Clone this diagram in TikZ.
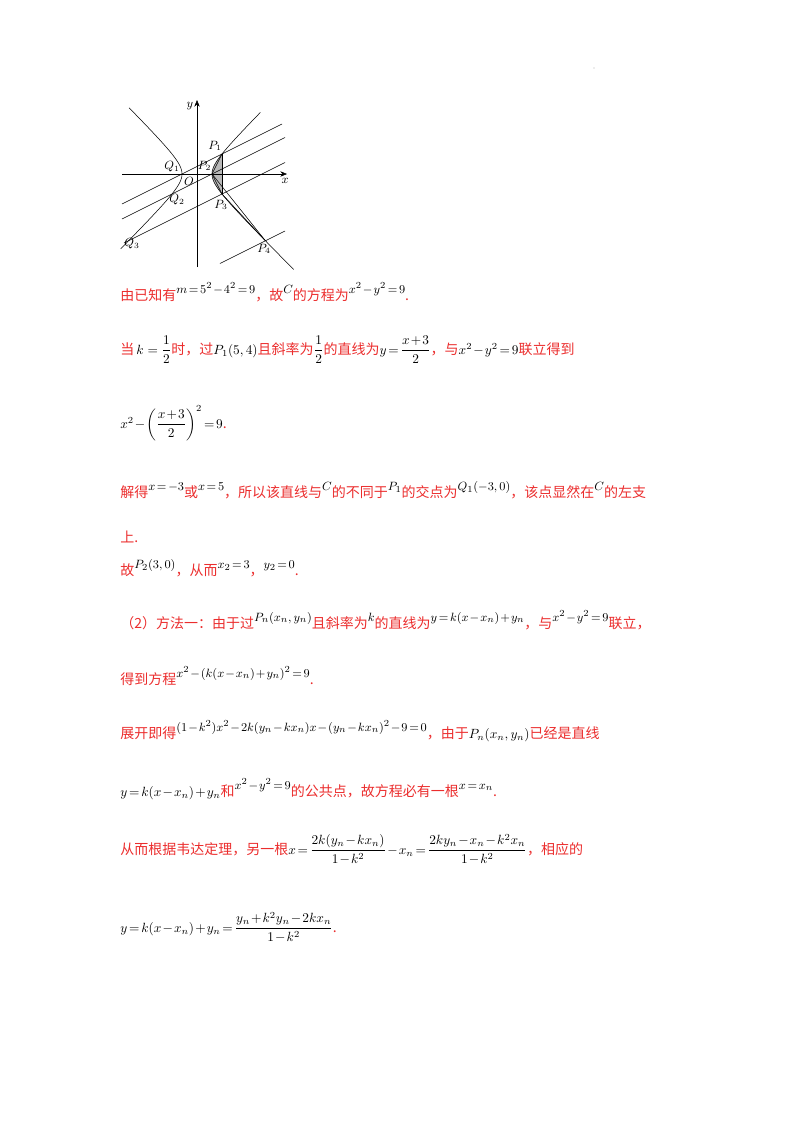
\documentclass[tikz,border=0pt]{standalone}
\usepackage{amsmath}
\usepackage{fontspec}
\setmainfont{Liberation Serif}
\newfontfamily\cjk{Noto Sans CJK SC}
\usetikzlibrary{arrows.meta}
\definecolor{txtred}{RGB}{235,45,45}
\newcommand{\R}[1]{{\cjk\color{txtred}#1}}
\newcommand{\U}[1]{\raisebox{5pt}{\fontsize{9.5}{12}\selectfont$#1$}}
\newcommand{\M}[1]{{\fontsize{10}{12}\selectfont$#1$}}
\thickmuskip=2.5mu plus 1mu
\medmuskip=1.5mu plus 1mu
\begin{document}
\begin{tikzpicture}[x=0.75pt,y=-0.75pt,
  line/.style={anchor=base west,inner sep=0pt,font=\fontsize{10.5}{13}\selectfont},
  lab/.style={inner sep=0pt,font=\fontsize{9}{10}\selectfont}]
\useasboundingbox (0,0) rectangle (800,1132);
\fill[gray!60] (594,68) circle (0.6);
\begin{scope}[shift={(197,174)},x=3.75pt,y=3.75pt,
  declare function={ch(\t)=(exp(\t)+exp(-\t))/2; sh(\t)=(exp(\t)-exp(-\t))/2;}]
  \fill[gray!55] plot[domain=-1.0986:1.0986,samples=30] ({3*ch(\x)},{3*sh(\x)}) -- cycle;
  \fill[gray!55] plot[domain=-2.2246:-1.0986,samples=30] ({3*ch(\x)},{3*sh(\x)}) -- cycle;
  \draw[thin,-{Stealth[length=5pt,width=4pt]}] (-15,0) -- (18,0);
  \draw[thin,-{Stealth[length=5pt,width=4pt]}] (0,-18.6) -- (0,14.8);
  \draw[thin] plot[domain=-2.55:2.12,samples=80] ({3*ch(\x)},{3*sh(\x)});
  \draw[thin] plot[domain=-2.31:2.19,samples=80] ({-3*ch(\x)},{3*sh(\x)});
  \coordinate (P1) at (5,4); \coordinate (P2) at (3,0); \coordinate (P3) at (5,-4);
  \coordinate (P4) at (13.67,-13.33);
  \draw[thin] (-15,-6) -- (17,10);
  \draw[thin] (-15,-9) -- (17.6,7.3);
  \draw[thin] (-14.6,-13.8) -- (17.6,2.3);
  \draw[thin] (4.6,-17.9) -- (17.6,-11.4);
  \draw[thin] (P1) -- (P3); \draw[thin] (P2) -- (P1); \draw[thin] (P2) -- (P3);
  \draw[thin] (P3) -- (P4); \draw[thin] (P2) -- (P4);
  \node[lab] at (-1.4,13.6) {$y$};
  \node[lab] at (17.6,-1.4) {$x$};
  \node[lab] at (-1.6,-1.4) {$O$};
  \node[lab] at (-5.0,1.4) {$Q_1$};
  \node[lab] at (1.5,1.6) {$P_2$};
  \node[lab] at (3.6,5.6) {$P_1$};
  \node[lab] at (-4.0,-5.2) {$Q_2$};
  \node[lab] at (4.8,-6.2) {$P_3$};
  \node[lab] at (-13.0,-14.0) {$Q_3$};
  \node[lab] at (13.4,-15.0) {$P_4$};
\end{scope}
\node[line] (l1) at (120,300) {\R{由已知有}\U{m=5^2-4^2=9}\R{，故}\U{C}\R{的方程为}\U{x^2-y^2=9}\R{.}};
\node[line] (l2) at (120,354) {\R{当}\M{\,k\;=\;\dfrac{1}{2}}\R{时，过}\M{P_1(5,4)}\R{且斜率为}\M{\dfrac12}\R{的直线为}\M{y=\dfrac{x+3}{2}}\R{，与}\M{x^2-y^2=9}\R{联立得到}};
\node[line] (l3) at (120,428) {\M{x^2-\left(\dfrac{x+3}{2}\right)^2=9}\R{.}};
\node[line] (l4) at (120,497) {\R{解得}\U{x=-3}\R{或}\U{x=5}\R{，所以该直线与}\U{C}\R{的不同于}\U{P_1}\R{的交点为}\U{Q_1(-3,0)}\R{，该点显然在}\U{C}\R{的左支}};
\node[line] (l5) at (120,542) {\R{上.}};
\node[line] (l6) at (120,575) {\R{故}\U{P_2(3,0)}\R{，从而}\U{x_2=3}\R{，}\U{y_2=0}\R{.}};
\node[line] (l7) at (120,628) {\R{（2）方法一：由于过}\U{P_n(x_n,y_n)}\R{且斜率为}\U{k}\R{的直线为}\U{y=k(x-x_n)+y_n}\R{，与}\U{x^2-y^2=9}\R{联立，}};
\node[line] (l8) at (120,684) {\R{得到方程}\U{x^2-(k(x-x_n)+y_n)^2=9}\R{.}};
\node[line] (l9) at (120,738) {\R{展开即得}\U{(1-k^2)x^2-2k(y_n-kx_n)x-(y_n-kx_n)^2-9=0}\R{，由于}\M{P_n(x_n,y_n)}\R{已经是直线}};
\node[line] (l10) at (120,796) {\M{y=k(x-x_n)+y_n}\R{和}\U{x^2-y^2=9}\R{的公共点，故方程必有一根}\U{x=x_n}\R{.}};
\node[line] (l11) at (120,854) {\R{从而根据韦达定理，另一根}\M{x=\dfrac{2k(y_n-kx_n)}{1-k^2}-x_n=\dfrac{2ky_n-x_n-k^2x_n}{1-k^2}}\R{，相应的}};
\node[line] (l12) at (120,932) {\M{y=k(x-x_n)+y_n=\dfrac{y_n+k^2y_n-2kx_n}{1-k^2}}\R{.}};
\end{tikzpicture}
\end{document}
